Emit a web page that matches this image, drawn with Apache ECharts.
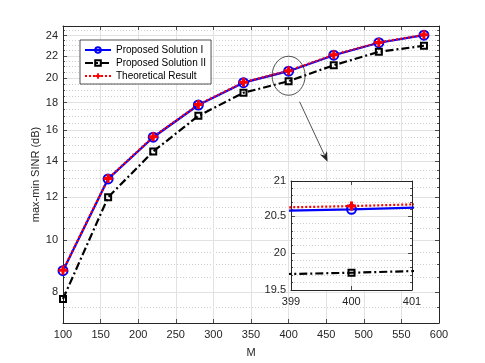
<!DOCTYPE html>
<html>
<head>
<meta charset="utf-8">
<script src="https://cdn.jsdelivr.net/npm/echarts@6/dist/echarts.min.js"></script>
<style>
html, body { margin: 0; padding: 0; background: #fff; }
#chart { width: 485px; height: 363px; }
</style>
</head>
<body>
<div id="chart"></div>
<script>
// number of antennas M and the max-min SINR (dB) of each curve
var M = [100, 160, 220, 280, 340, 400, 460, 520, 580];
var sol1 = [8.76, 12.98, 15.52, 17.82, 19.61, 20.60, 22.06, 23.27, 24.04];
var sol2 = [7.76, 12.00, 14.60, 17.01, 18.78, 19.73, 21.13, 22.38, 22.97];
var theory = [8.78, 13.00, 15.55, 17.85, 19.64, 20.645, 22.09, 23.30, 24.07];

// tick values (log y axis, like the matlab figure)
var yMajor = [8, 10, 12, 14, 16, 18, 20, 22, 24];
var yMinor = [7.5, 8.5, 9, 9.5, 10.5, 11, 11.5, 12.5, 13, 13.5, 14.5, 15, 15.5,
              16.5, 17, 17.5, 18.5, 19, 19.5, 20.5, 21, 21.5, 22.5, 23, 23.5, 24.5];
var zoomMajor = [19.5, 20, 20.5, 21];
var zoomMinor = [19.6, 19.7, 19.8, 19.9, 20.1, 20.2, 20.3, 20.4, 20.6, 20.7, 20.8, 20.9];

var ink = '#262626';
var font = 'Liberation Sans, Arial, Helvetica, sans-serif';
var plus = 'path://M3,0h3v3h3v3h-3v3h-3v-3h-3v-3h3z';

function pairs(xs, ys) {
    return xs.map(function (x, i) { return [x, ys[i]]; });
}

function xAx(grid, min, max, interval, pos, z) {
    var main = pos === 'bottom';
    return {
        type: 'value', gridIndex: grid, position: pos, min: min, max: max, interval: interval, z: z,
        axisLine: { show: true, lineStyle: { color: ink, width: 1 } },
        axisTick: { show: true, inside: true, length: 4, lineStyle: { color: ink, width: 0.8 } },
        axisLabel: { show: main, color: ink, fontSize: 11, fontFamily: font, margin: 6 },
        splitLine: { show: main, showMinLine: false, showMaxLine: false, lineStyle: { color: '#e2e2e2', width: 1 } }
    };
}

function yAx(grid, min, max, values, pos, major, z) {
    var left = pos === 'left';
    return {
        type: 'log', logBase: 10, gridIndex: grid, position: pos, min: min, max: max, z: z,
        axisLine: { show: major, lineStyle: { color: ink, width: 1 } },
        axisTick: { show: true, inside: true, length: major ? 4 : 2, customValues: values,
                    lineStyle: { color: ink, width: 0.8 } },
        axisLabel: { show: major && left, customValues: values, color: ink, fontSize: 11, fontFamily: font, margin: 5,
                     formatter: function (v) { return String(+(+v).toFixed(2)); } },
        splitLine: { show: left,
                     lineStyle: major ? { color: '#e2e2e2', width: 1 } : { color: '#c4c4c4', width: 0.8, type: [1, 2] } },
        minorTick: { show: false },
        minorSplitLine: { show: false }
    };
}

function makeSeries(x, y, z) {
    return [{
        name: 'Proposed Solution I', type: 'line', xAxisIndex: x, yAxisIndex: y, z: z,
        data: pairs(M, sol1),
        symbol: 'circle', symbolSize: 9,
        lineStyle: { color: '#0000ff', width: 2.2 },
        itemStyle: { color: 'rgba(255,255,255,0)', borderColor: '#0000ff', borderWidth: 2 }
    }, {
        name: 'Proposed Solution II', type: 'line', xAxisIndex: x, yAxisIndex: y, z: z,
        data: pairs(M, sol2),
        symbol: 'rect', symbolSize: 6,
        lineStyle: { color: '#000', width: 2.2, type: [8, 3, 2, 3] },
        itemStyle: { color: 'rgba(255,255,255,0)', borderColor: '#000', borderWidth: 2 }
    }, {
        name: 'Theoretical Result', type: 'line', xAxisIndex: x, yAxisIndex: y, z: z,
        data: pairs(M, theory),
        symbol: plus, symbolSize: 9,
        lineStyle: { color: '#ff0000', width: 2.2, type: [2, 2] },
        itemStyle: { color: '#ff0000' }
    }];
}

var chart = echarts.init(document.getElementById('chart'), null, { renderer: 'canvas' });

var option = {
    backgroundColor: '#fff',
    animation: false,
    textStyle: { fontFamily: font },
    grid: [
        { left: 63, top: 26, right: 46, bottom: 40, show: false },
        { left: 291, top: 181, width: 121, height: 109, show: true, backgroundColor: '#fff', borderWidth: 0, z: 3 }
    ],
    legend: {
        orient: 'vertical', left: 80, top: 40,
        data: ['Proposed Solution I', 'Proposed Solution II', 'Theoretical Result'],
        itemWidth: 26, itemHeight: 7, itemGap: 3,
        padding: [5, 5, 3, 4],
        backgroundColor: '#fff', borderColor: ink, borderWidth: 0.8,
        textStyle: { fontSize: 10, color: '#000', fontFamily: font }
    },
    xAxis: [
        Object.assign(xAx(0, 100, 600, 50, 'bottom', 0), {
            name: 'M', nameLocation: 'middle', nameGap: 24, nameMoveOverlap: false,
            nameTextStyle: { color: ink, fontSize: 11, fontFamily: font }
        }),
        xAx(0, 100, 600, 50, 'top', 0),
        xAx(1, 399, 401, 1, 'bottom', 4),
        xAx(1, 399, 401, 1, 'top', 4)
    ],
    yAxis: [
        Object.assign(yAx(0, 7, 25, yMajor, 'left', true, 0), {
            name: 'max-min SINR (dB)', nameLocation: 'middle', nameGap: 22, nameMoveOverlap: false,
            nameTextStyle: { color: ink, fontSize: 11, fontFamily: font }
        }),
        yAx(0, 7, 25, yMinor, 'left', false, 0),
        yAx(0, 7, 25, yMajor, 'right', true, 0),
        yAx(0, 7, 25, yMinor, 'right', false, 0),
        yAx(1, 19.5, 21, zoomMajor, 'left', true, 4),
        yAx(1, 19.5, 21, zoomMinor, 'left', false, 4),
        yAx(1, 19.5, 21, zoomMajor, 'right', true, 4),
        yAx(1, 19.5, 21, zoomMinor, 'right', false, 4)
    ],
    series: makeSeries(0, 0, 2).concat(makeSeries(2, 4, 5))
};
chart.setOption(option);

// ellipse round the point M = 400 and the arrow down to the zoomed view
var c = chart.convertToPixel({ xAxisIndex: 0, yAxisIndex: 0 }, [400, 20.2]);
var a0 = [c[0] + 11, c[1] + 26];
var a1 = [c[0] + 39, c[1] + 86];
var dx = a1[0] - a0[0], dy = a1[1] - a0[1];
var len = Math.sqrt(dx * dx + dy * dy);
var ux = dx / len, uy = dy / len;
var head = [
    a1,
    [a1[0] - ux * 10 - uy * 4, a1[1] - uy * 10 + ux * 4],
    [a1[0] - ux * 7, a1[1] - uy * 7],
    [a1[0] - ux * 10 + uy * 4, a1[1] - uy * 10 - ux * 4]
];
chart.setOption({
    graphic: [
        { type: 'ellipse', z: 10, shape: { cx: c[0], cy: c[1], rx: 16.5, ry: 19.5 },
          style: { fill: 'none', stroke: ink, lineWidth: 0.8 } },
        { type: 'line', z: 10, shape: { x1: a0[0], y1: a0[1], x2: a1[0] - ux * 7, y2: a1[1] - uy * 7 },
          style: { stroke: ink, lineWidth: 0.8 } },
        { type: 'polygon', z: 10, shape: { points: head }, style: { fill: ink } }
    ]
});
</script>
</body>
</html>
